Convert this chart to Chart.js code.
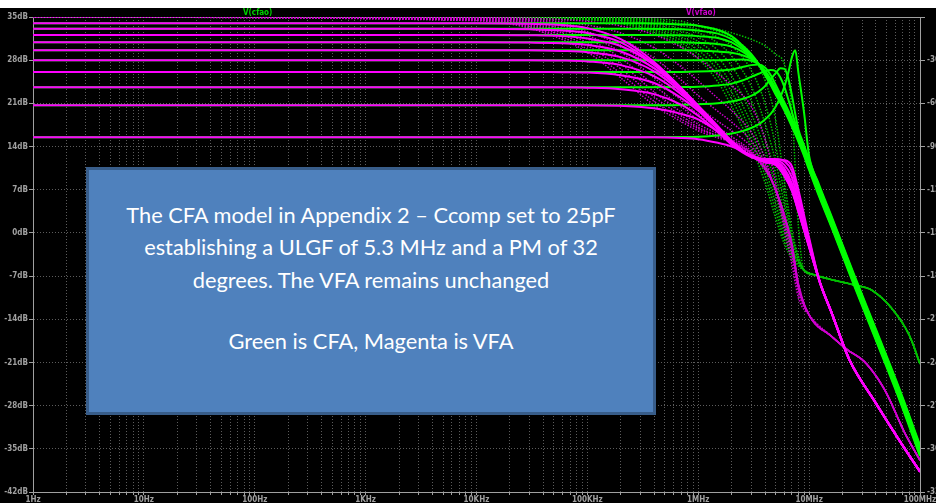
<!DOCTYPE html>
<html><head><meta charset="utf-8">
<script src="https://cdn.jsdelivr.net/npm/chart.js@4/dist/chart.umd.min.js"></script>
<style>
html,body{margin:0;padding:0;background:#fff;width:936px;height:503px;overflow:hidden;}
#wrap{position:absolute;left:0;top:8px;width:936px;height:495px;background:#000;overflow:hidden;}
#c{position:absolute;left:0;top:0;width:980px;height:495px;}
.trace{position:absolute;top:9px;font:bold 8px 'DejaVu Sans Condensed','DejaVu Sans',sans-serif;line-height:8px;}
#box{position:absolute;left:86px;top:167px;width:570px;height:248px;box-sizing:border-box;background:#4f81bd;border:3px solid #385d8a;color:#fff;font-family:Lato,'Open Sans',sans-serif;font-size:21.8px;}
#box div{position:absolute;left:0;width:100%;text-align:center;line-height:26px;white-space:nowrap;}
</style></head>
<body>
<div id="wrap"><canvas id="c" width="980" height="495"></canvas></div>
<div class="trace" style="left:243px;color:#00d000">V(cfao)</div>
<div class="trace" style="left:686px;color:#d000d0">V(vfao)</div>
<div id="box">
<div style="top:32px">The CFA model in Appendix 2 – Ccomp set to 25pF</div>
<div style="top:64px">establishing a ULGF of 5.3 MHz and a PM of 32</div>
<div style="top:97px">degrees. The VFA remains unchanged</div>
<div style="top:158px">Green is CFA, Magenta is VFA</div>
</div>
<script>
// ---- axis labels ----
const xTickLabels = ['1Hz','10Hz','100Hz','1KHz','10KHz','100KHz','1MHz','10MHz','100MHz'];
const yTickSuffix = 'dB';
const y2TickSuffix = '°';

// ---- VFA magnitude (magenta solid), dB ----
const vfaMagFreq = [1,1e4,3e4,6e4,1e5,2e5,4e5,7e5,1e6,1.5e6,2e6,3e6,4e6,5e6,6e6,7e6,8e6,1e7];
const vfaMag = [
  [34.0,34.0,33.9,33.7,33.2,31.4,27.7,23.5,20.6,17.2,14.8,12.4,11.5,11.0,9.2,6.8,3.5,-2.3],
  [33.1,33.1,33.0,32.8,32.4,30.9,27.4,23.5,20.6,17.3,14.9,12.4,11.5,11.0,9.2,6.8,3.5,-2.3],
  [32.1,32.1,32.05,31.9,31.5,30.3,27.2,23.3,20.6,17.2,14.8,12.4,11.5,11.1,9.4,7.0,3.6,-2.2],
  [30.9,30.9,30.85,30.75,30.5,29.4,26.7,23.2,20.4,17.1,14.8,12.4,11.6,11.2,9.6,7.2,3.8,-2.1],
  [29.6,29.6,29.6,29.5,29.3,28.5,26.2,22.9,20.3,17.1,14.7,12.4,11.6,11.3,9.8,7.4,4.0,-2.0],
  [28.0,28.0,28.0,27.95,27.8,27.2,25.4,22.5,20.1,16.9,14.7,12.4,11.7,11.4,10.0,7.6,4.2,-1.9],
  [26.1,26.1,26.1,26.05,26.0,25.55,24.3,21.9,19.8,16.8,14.7,12.4,11.8,11.6,10.4,8.0,4.5,-1.8],
  [23.6,23.6,23.6,23.6,23.55,23.3,22.5,20.8,19.0,16.4,14.3,12.3,11.9,11.8,11.0,9.0,5.0,-1.6],
  [20.7,20.7,20.7,20.7,20.7,20.6,20.2,19.3,18.4,16.4,14.6,12.5,12.0,12.0,11.6,10.0,6.0,-1.2],
  [15.5,15.5,15.5,15.5,15.5,15.5,15.5,15.4,15.2,14.6,14.0,12.6,11.8,11.9,11.8,10.8,7.0,-0.8]
];
const vfaMagTailFreq = [1.25e7,1.6e7,2.3e7,4e7,6.5e7,1e8];
const vfaMagTail = [-8.0,-13.0,-20.5,-27.6,-33.6,-38.7];

// ---- CFA magnitude (green solid), dB ----
const cfaMagFreq = [1,3e5,7e5,1e6,1.5e6,2e6,2.5e6,3e6,3.5e6,4e6,4.5e6,5e6,5.5e6,6e6,6.5e6,7e6,7.5e6,8e6,9e6,1e7,1.2e7,1.6e7,2.5e7,4e7,6.5e7,1e8];
const cfaMag = [
  [34.0,34.0,33.8,33.6,32.9,31.9,30.4,29.0,27.4,25.6,24.0,22.4,21.1,19.8,18.5,17.2,16.0,14.8,12.5,10.2,6.4,0.8,-8.2,-17.4,-27.0,-36.2],
  [33.1,33.1,33.0,32.8,32.3,31.4,30.1,28.8,27.3,25.7,24.1,22.6,21.3,20.0,18.7,17.4,16.2,15.0,12.7,10.4,6.6,1.0,-8.0,-17.2,-26.8,-36.0],
  [32.1,32.1,32.05,31.9,31.6,30.9,29.8,28.6,27.3,25.8,24.3,22.8,21.5,20.2,18.9,17.6,16.4,15.2,12.9,10.6,6.8,1.2,-7.8,-17.0,-26.6,-35.8],
  [30.9,30.9,30.9,30.8,30.6,30.2,29.4,28.4,27.3,25.9,24.5,23.0,21.7,20.4,19.1,17.8,16.6,15.4,13.1,10.8,7.0,1.4,-7.6,-16.8,-26.4,-35.6],
  [29.6,29.6,29.6,29.55,29.4,29.2,28.8,28.2,27.3,26.0,24.6,23.2,21.9,20.6,19.3,18.0,16.8,15.6,13.3,11.0,7.2,1.6,-7.4,-16.6,-26.2,-35.4],
  [28.0,28.0,28.0,28.0,28.0,28.05,28.1,27.9,27.4,26.3,24.9,23.4,22.1,20.8,19.5,18.2,17.0,15.8,13.5,11.2,7.4,1.8,-7.2,-16.4,-26.0,-35.2],
  [26.1,26.1,26.1,26.15,26.3,26.5,26.9,27.2,27.3,26.8,25.6,24.0,22.5,21.1,19.8,18.5,17.2,16.0,13.7,11.4,7.6,2.0,-7.0,-16.2,-25.8,-35.0],
  [23.6,23.6,23.65,23.7,23.9,24.2,24.7,25.3,25.8,26.2,26.4,26.2,25.2,23.6,21.6,19.6,17.8,16.3,13.9,11.6,7.8,2.2,-6.8,-16.0,-25.6,-34.8],
  [20.7,20.7,20.75,20.85,21.0,21.3,21.7,22.2,22.9,23.8,24.9,25.9,26.7,26.6,25.0,22.3,19.3,16.8,14.2,11.9,8.0,2.4,-6.6,-15.8,-25.4,-34.6],
  [15.5,15.5,15.55,15.6,15.8,16.1,16.5,17.0,17.6,18.4,19.3,20.5,22.0,23.8,26.0,28.5,29.6,26.0,19.5,12.5,8.3,2.6,-6.4,-15.6,-25.2,-34.4]
];

// ---- VFA phase (magenta dotted), degrees ----
const vfaPhFreq = [1,1e4,3e4,1e5,2e5,4e5,7e5,1e6,1.5e6,2e6,3e6,4e6,5e6,6e6,7e6,8e6];
const vfaPh = [
  [0,-2.6,-7.8,-24.4,-42.3,-61.2,-72.6,-79,-84,-87,-96,-106,-120,-138,-158,-185],
  [0,-2.3,-7,-22.3,-39.3,-58.6,-70.8,-77.5,-83,-87,-95,-106,-120,-138,-158,-185],
  [0,-2.1,-6.2,-20,-36,-55.5,-68.5,-76.5,-82.5,-86.5,-95,-105,-120,-138,-158,-185],
  [0,-1.8,-5.5,-17.7,-32.5,-52,-66,-74.5,-81,-86,-94.5,-105,-120,-138,-158,-186],
  [0,-1.6,-4.7,-15.2,-28.6,-47.5,-62.3,-71.5,-79,-85,-94,-105,-120,-139,-159,-186],
  [0,-1.3,-3.9,-12.8,-24.4,-42.3,-57.8,-67.6,-76.6,-83,-93,-104,-120,-139,-160,-187],
  [0,-1.0,-3.1,-10.3,-20,-36,-51.8,-62.5,-72.4,-79,-90,-103,-120,-140,-161,-188],
  [0,-0.8,-2.3,-7.8,-15.3,-28.6,-43.7,-54.6,-65.5,-73,-86,-101,-121,-142,-163,-189],
  [0,-0.6,-1.7,-5.6,-11.1,-21.4,-34.5,-44.5,-56.5,-65,-80,-98,-122,-145,-166,-191],
  [0,-0.3,-0.9,-3.1,-6.2,-12.3,-21,-28.6,-39.4,-47.5,-62,-85,-115,-148,-172,-195]
];
const vfaPhTailFreq = [1e7,1.6e7,2.2e7,3.2e7,4.8e7,7.3e7,1e8];
const vfaPhTail = [-207,-222,-231,-240,-259,-289,-308];

// ---- CFA phase (green dotted), degrees ----
const cfaPhFreq = [1,1e5,3e5,7e5,1e6,1.5e6,2e6,3e6,4e6,5e6,6e6,7e6,8e6];
const cfaPh = [
  [0,-2,-8,-20,-29,-45,-62,-90,-115,-140,-158,-168,-173],
  [0,-2,-7,-18,-26,-41,-57,-85,-110,-135,-155,-166,-172],
  [0,-1.5,-6,-16,-23,-37,-52,-80,-105,-130,-152,-165,-171],
  [0,-1.5,-5,-14,-20,-33,-47,-74,-99,-124,-148,-163,-170],
  [0,-1,-4,-12,-17,-28,-41,-67,-92,-118,-144,-161,-170],
  [0,-1,-3.5,-10,-14,-23,-34,-58,-84,-110,-138,-158,-169],
  [0,-1,-3,-8,-11,-18,-27,-48,-74,-101,-131,-155,-168],
  [0,-0.5,-2,-6,-8.5,-14,-20,-37,-60,-90,-124,-152,-167],
  [0,-0.5,-1.5,-4.5,-6.5,-10,-14,-26,-44,-72,-115,-148,-166],
  [0,-0.3,-1,-3,-6,-8.5,-11,-15.5,-20,-26,-33,-65,-145]
];
const cfaPhTailFreq = [9e6,1.1e7,1.6e7,2.5e7,3.7e7,5.7e7,8.1e7,1e8];
const cfaPhTail = [-176,-179,-182.5,-186,-190,-203.5,-222,-241];

// ---- build datasets ----
function pts(f, v, tf, tv){
  const out = f.map((x,i)=>({x, y:v[i]}));
  if (tf) tf.forEach((x,i)=>out.push({x, y:tv[i]}));
  return out;
}
const MAG = '#ff00ff', GRN = '#00ff00';
const datasets = [];
vfaMag.forEach(r=>datasets.push({data:pts(vfaMagFreq,r,vfaMagTailFreq,vfaMagTail),borderColor:MAG,borderWidth:2,yAxisID:'y'}));
cfaMag.forEach(r=>datasets.push({data:pts(cfaMagFreq,r),borderColor:GRN,borderWidth:2,yAxisID:'y'}));
vfaPh.forEach(r=>datasets.push({data:pts(vfaPhFreq,r,vfaPhTailFreq,vfaPhTail),borderColor:'#d000d0',borderWidth:1.5,borderDash:[1.5,1.5],yAxisID:'y2'}));
cfaPh.forEach(r=>datasets.push({data:pts(cfaPhFreq,r,cfaPhTailFreq,cfaPhTail),borderColor:'#00c000',borderWidth:1.5,borderDash:[1.5,1.5],yAxisID:'y2'}));

const xTickValues = [];
for (let d=0; d<8; d++) for (let k=1; k<10; k++) xTickValues.push(k*Math.pow(10,d));
xTickValues.push(1e8);

const AX = '#a0a0a0', GRID = '#5c5c5c';
const tickFont = {family:"'DejaVu Sans Condensed','DejaVu Sans',sans-serif", size:8, weight:'bold'};

const frame = {
  id:'frame',
  beforeDatasetsDraw(chart){
    const {ctx, chartArea:a} = chart;
    ctx.save();
    ctx.strokeStyle = AX; ctx.lineWidth = 1;
    ctx.beginPath();
    ctx.moveTo(a.left, a.top+0.5); ctx.lineTo(a.right, a.top+0.5);
    ctx.stroke();
    ctx.restore();
  }
};

new Chart(document.getElementById('c'), {
  type:'line',
  data:{datasets},
  plugins:[frame],
  options:{
    responsive:false, animation:false,
    elements:{point:{radius:0}, line:{cubicInterpolationMode:'monotone', fill:false}},
    layout:{padding:{left:0,right:0,top:9,bottom:0}},
    plugins:{legend:{display:false}, tooltip:{enabled:false}},
    scales:{
      x:{type:'logarithmic', min:1, max:1e8,
        afterBuildTicks(s){ s.ticks = xTickValues.map(v=>({value:v})); },
        afterFit(s){ s.height = 11; },
        ticks:{autoSkip:false, maxRotation:0, minRotation:0, color:AX, font:tickFont, padding:0,
          callback(v){ const e = Math.log10(v); return Math.abs(e-Math.round(e))<1e-9 ? xTickLabels[Math.round(e)] : ''; }},
        grid:{color:GRID, tickColor:AX, tickLength:3, lineWidth:1},
        border:{color:AX, width:1, dash:[1,2]}
      },
      y:{position:'left', min:-42, max:35,
        afterFit(s){ s.width = 33; },
        ticks:{stepSize:7, color:AX, font:tickFont, padding:1, callback(v){ return v + yTickSuffix; }},
        grid:{color:GRID, tickColor:AX, tickLength:4, lineWidth:1},
        border:{color:AX, width:1, dash:[1,2]}
      },
      y2:{position:'right', min:-330, max:0,
        afterFit(s){ s.width = 60; },
        ticks:{stepSize:30, color:AX, font:tickFont, padding:2, callback(v){ return v===0 ? '' : v + y2TickSuffix; }},
        grid:{drawOnChartArea:false, tickColor:AX, tickLength:5},
        border:{color:AX, width:1}
      }
    }
  }
});
</script>
</body></html>
